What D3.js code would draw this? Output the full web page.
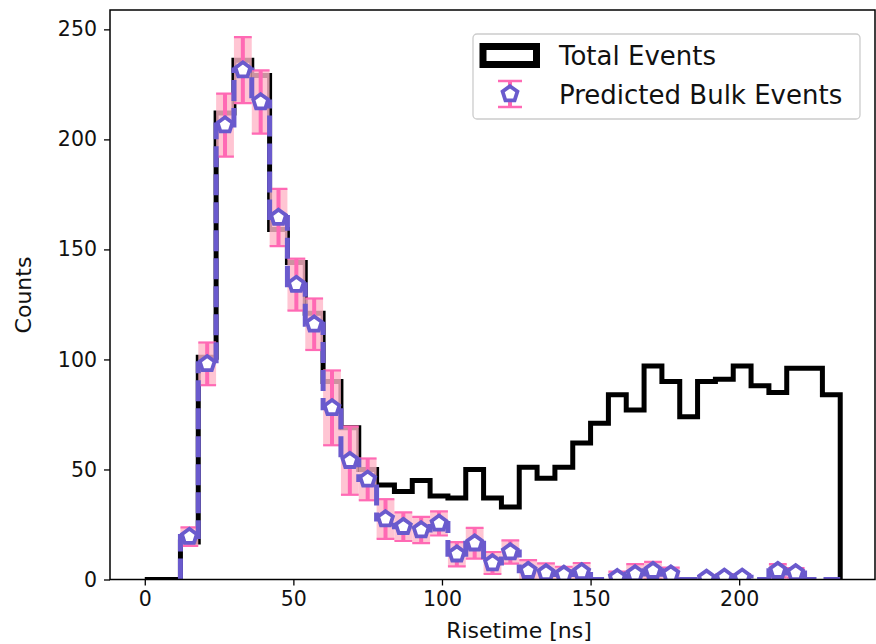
<!DOCTYPE html>
<html><head><meta charset="utf-8">
<script src="https://cdn.jsdelivr.net/npm/d3@7"></script>
<style>body{margin:0;background:#fff}svg{display:block}text{font-family:"DejaVu Sans",sans-serif;fill:#111}</style>
</head><body><svg id="c" width="876" height="644"></svg>
<script>
// ---- data ----
const binEdges = [0,6,12,18,24,30,36,42,48,54,60,66,72,78,84,90,96,102,108,114,120,126,132,138,144,150,156,162,168,174,180,186,192,198,204,210,216,222,228,234];
const totalEvents = [0,0,17,101,212,236,229,159,144,121,90,69,50,43,40,45,38,37,50,37,33,51,46,51,62,71,84,77,97,90,74,90,91,97,88,85,96,96,84];
const bulkPred = [null,null,19.5,98,206.5,231.5,217,164.5,134,116,78,54,45.5,27.5,24,22.5,25.5,11.5,16.5,7.5,12.5,4,3,2.3,3.5,0,0.8,2.5,4,2.4,0,0.5,1,1,0,4,3,0,0];
const bulkErr  = [null,null,4.2,9.7,14.3,15,14.4,13,11.8,11.7,17,15.5,9.5,9,6.5,6,5.5,5.5,7,5,5.3,4.8,4.3,3.5,4,0,2.8,4.5,4,3,0,1,1.5,1.5,0,3,2.2,0,0];
const xTicks = [0,50,100,150,200];
const yTicks = [0,50,100,150,200,250];
const legendLabels = ["Total Events","Predicted Bulk Events"];
const xLabel = "Risetime [ns]";
const yLabel = "Counts";

// ---- layout ----
const svg = d3.select("#c");
const L=110, R=875, T=10, B=579.5;
const x = d3.scaleLinear().domain([-11.7,245.7]).range([L,R]);
const y = d3.scaleLinear().domain([0,258.8]).range([B,T]);
const PURPLE="#6a5acd", HOT="#ff69b4", LIGHT="#ffb6c8";

svg.append("defs").append("clipPath").attr("id","clip")
  .append("rect").attr("x",L).attr("y",T).attr("width",R-L).attr("height",B-T);
const g = svg.append("g").attr("clip-path","url(#clip)");

// total step histogram
const nB = totalEvents.length;
const totPts = [[binEdges[0],0]];
for(let i=0;i<nB;i++){ totPts.push([binEdges[i],totalEvents[i]]); totPts.push([binEdges[i+1],totalEvents[i]]); }
totPts.push([binEdges[nB],0]);
const line = d3.line().x(d=>x(d[0])).y(d=>y(d[1]));
g.append("path").attr("d",line(totPts)).attr("fill","none").attr("stroke","#000")
  .attr("stroke-width",5).attr("stroke-linejoin","miter");

// predicted data
const pred = bulkPred.map((v,i)=>({v, e:bulkErr[i], x0:binEdges[i], x1:binEdges[i+1], xc:(binEdges[i]+binEdges[i+1])/2})).filter(d=>d.v!==null);

// error boxes
g.selectAll("rect.eb").data(pred.filter(d=>d.e>0)).join("rect").attr("class","eb")
  .attr("x",d=>x(d.xc)-8.9).attr("width",17.8)
  .attr("y",d=>y(d.v+d.e)).attr("height",d=>y(d.v-d.e)-y(d.v+d.e))
  .attr("fill",LIGHT).attr("opacity",0.8);
// error bars
const eg = g.selectAll("g.err").data(pred.filter(d=>d.e>0)).join("g").attr("class","err");
eg.append("line").attr("x1",d=>x(d.xc)).attr("x2",d=>x(d.xc))
  .attr("y1",d=>y(d.v+d.e)).attr("y2",d=>y(d.v-d.e)).attr("stroke",HOT).attr("stroke-width",4);
eg.append("line").attr("x1",d=>x(d.xc)-8.9).attr("x2",d=>x(d.xc)+8.9)
  .attr("y1",d=>y(d.v+d.e)).attr("y2",d=>y(d.v+d.e)).attr("stroke",HOT).attr("stroke-width",2.2);
eg.append("line").attr("x1",d=>x(d.xc)-8.9).attr("x2",d=>x(d.xc)+8.9)
  .attr("y1",d=>y(d.v-d.e)).attr("y2",d=>y(d.v-d.e)).attr("stroke",HOT).attr("stroke-width",2.2);

// predicted step (dashed)
const pPts = [[pred[0].x0,0]];
pred.forEach(d=>{pPts.push([d.x0,d.v]);pPts.push([d.x1,d.v]);});
pPts.push([pred[pred.length-1].x1,0]);
g.append("path").attr("d",line(pPts)).attr("fill","none").attr("stroke",PURPLE)
  .attr("stroke-width",5).attr("stroke-dasharray","21,7");

// pentagon symbol
const pentagon = {draw(ctx,size){const r=Math.sqrt(size);for(let k=0;k<5;k++){const a=-Math.PI/2+k*2*Math.PI/5;const px=r*Math.cos(a),py=r*Math.sin(a);k?ctx.lineTo(px,py):ctx.moveTo(px,py);}ctx.closePath();}};
const sym = d3.symbol().type(pentagon).size(61);
g.selectAll("path.mk").data(pred.filter(d=>d.v>0)).join("path").attr("class","mk")
  .attr("d",sym).attr("transform",d=>`translate(${x(d.xc)},${y(d.v)})`)
  .attr("fill","#fff").attr("stroke",PURPLE).attr("stroke-width",3.8).attr("stroke-linejoin","miter");

// frame
svg.append("rect").attr("x",L).attr("y",T).attr("width",R-L).attr("height",B-T)
  .attr("fill","none").attr("stroke","#000").attr("stroke-width",1.5);

// axes
const xa = svg.append("g").attr("transform",`translate(0,${B})`)
  .call(d3.axisBottom(x).tickValues(xTicks).tickSize(6).tickPadding(6).tickFormat(d3.format("d")));
const ya = svg.append("g").attr("transform",`translate(${L},0)`)
  .call(d3.axisLeft(y).tickValues(yTicks).tickSize(6).tickPadding(7).tickFormat(d3.format("d")));
[xa,ya].forEach(a=>{a.select(".domain").remove();a.selectAll("line").attr("stroke","#000").attr("stroke-width",1.3);
  a.selectAll("text").attr("font-size",20.5).attr("font-family","DejaVu Sans").attr("fill","#111");});

svg.append("text").attr("x",519).attr("y",638).attr("text-anchor","middle").attr("font-size",22).text(xLabel);
svg.append("text").attr("transform","translate(31,295) rotate(-90)").attr("text-anchor","middle").attr("font-size",22).text(yLabel);

// legend
const lg = svg.append("g");
lg.append("rect").attr("x",473).attr("y",34).attr("width",387).attr("height",85).attr("rx",4)
  .attr("fill","#fff").attr("fill-opacity",0.8).attr("stroke","#ccc").attr("stroke-width",1.3);
lg.append("rect").attr("x",483).attr("y",46.5).attr("width",53.5).attr("height",18)
  .attr("fill","none").attr("stroke","#000").attr("stroke-width",7);
lg.append("line").attr("x1",510).attr("x2",510).attr("y1",81).attr("y2",107).attr("stroke",HOT).attr("stroke-width",4);
lg.append("line").attr("x1",498).attr("x2",522).attr("y1",81).attr("y2",81).attr("stroke",HOT).attr("stroke-width",2.5);
lg.append("line").attr("x1",498).attr("x2",522).attr("y1",107).attr("y2",107).attr("stroke",HOT).attr("stroke-width",2.5);
lg.append("path").attr("d",sym).attr("transform","translate(510,94)").attr("fill","#fff").attr("stroke",PURPLE).attr("stroke-width",3.8);
lg.selectAll("text.lt").data(legendLabels).join("text").attr("class","lt")
  .attr("x",559).attr("y",(d,i)=>65+i*39).attr("font-size",26).text(d=>d);
</script></body></html>
